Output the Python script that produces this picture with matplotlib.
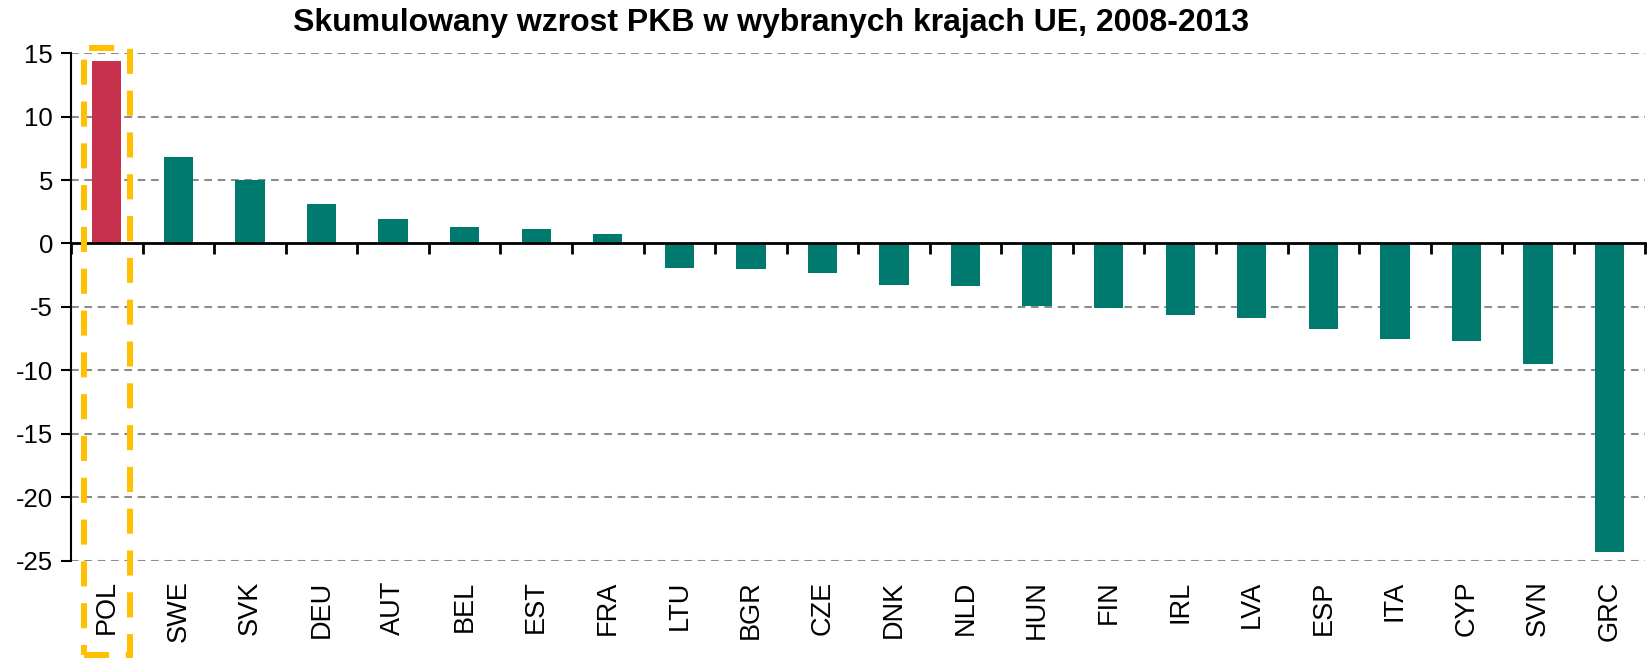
import matplotlib
matplotlib.use("Agg")
import matplotlib.pyplot as plt
import numpy as np
from matplotlib.patches import Rectangle

# dane: skumulowany wzrost PKB 2008-2013 (%)
countries = ["POL", "SWE", "SVK", "DEU", "AUT", "BEL", "EST", "FRA", "LTU", "BGR", "CZE",
             "DNK", "NLD", "HUN", "FIN", "IRL", "LVA", "ESP", "ITA", "CYP", "SVN", "GRC"]
growth = [14.4, 6.8, 5.0, 3.1, 1.9, 1.3, 1.15, 0.75, -1.95, -2.0, -2.3,
          -3.3, -3.35, -4.9, -5.1, -5.6, -5.85, -6.75, -7.5, -7.65, -9.5, -24.3]
yticks = [15, 10, 5, 0, -5, -10, -15, -20, -25]
title = "Skumulowany wzrost PKB w wybranych krajach UE, 2008-2013"

plt.rcParams["font.family"] = ["Liberation Sans", "DejaVu Sans"]

TEAL = "#007A6E"
RED = "#C8314E"
GOLD = "#FFC000"

fig = plt.figure(figsize=(16.52, 6.63), dpi=100)
ax = fig.add_axes([0.043, 0.154, 0.953, 0.766])

x = np.arange(len(countries))
colors = [RED if c == "POL" else TEAL for c in countries]
ax.bar(x, growth, width=0.41, color=colors, zorder=3)

ax.set_xlim(-0.5, len(countries) - 0.5)
ax.set_ylim(-25, 15)
ax.set_yticks(yticks)
ax.set_yticklabels([str(v) for v in yticks], fontsize=18.5)

# siatka pozioma, przerywana
for v in yticks:
    if v != 0:
        ax.axhline(v, color="#8c8c8c", lw=1.5, ls=(0, (3.7, 2.7)), zorder=1)

# oś x w zerze, kreski między kategoriami
ax.spines["bottom"].set_position(("data", 0))
ax.spines["bottom"].set_linewidth(2)
ax.spines["bottom"].set_zorder(4)
ax.spines["top"].set_visible(False)
ax.spines["right"].set_visible(False)
ax.spines["left"].set_linewidth(1.5)
ax.set_xticks(np.arange(len(countries) + 1) - 0.5)
ax.set_xticklabels([])
ax.tick_params(axis="x", length=8, width=2, direction="out")
ax.tick_params(axis="y", length=7, width=1.5, direction="out", pad=6)

# etykiety krajów na dole
sec = ax.secondary_xaxis("bottom")
sec.set_xticks(x)
sec.set_xticklabels(countries, rotation=90, fontsize=19.5)
sec.tick_params(length=0, pad=14)
sec.spines["bottom"].set_visible(False)

# żółta przerywana ramka wokół POL
pol = countries.index("POL")
box = Rectangle((pol - 0.32, -32.4), 0.64, 47.8, fill=False, edgecolor=GOLD,
                lw=4.3, ls=(0, (4.2, 2.8)), clip_on=False, zorder=5)
ax.add_patch(box)

fig.text(0.467, 0.965, title, ha="center", va="center", fontsize=23, fontweight="bold")

fig.savefig("out.png", dpi=100)
